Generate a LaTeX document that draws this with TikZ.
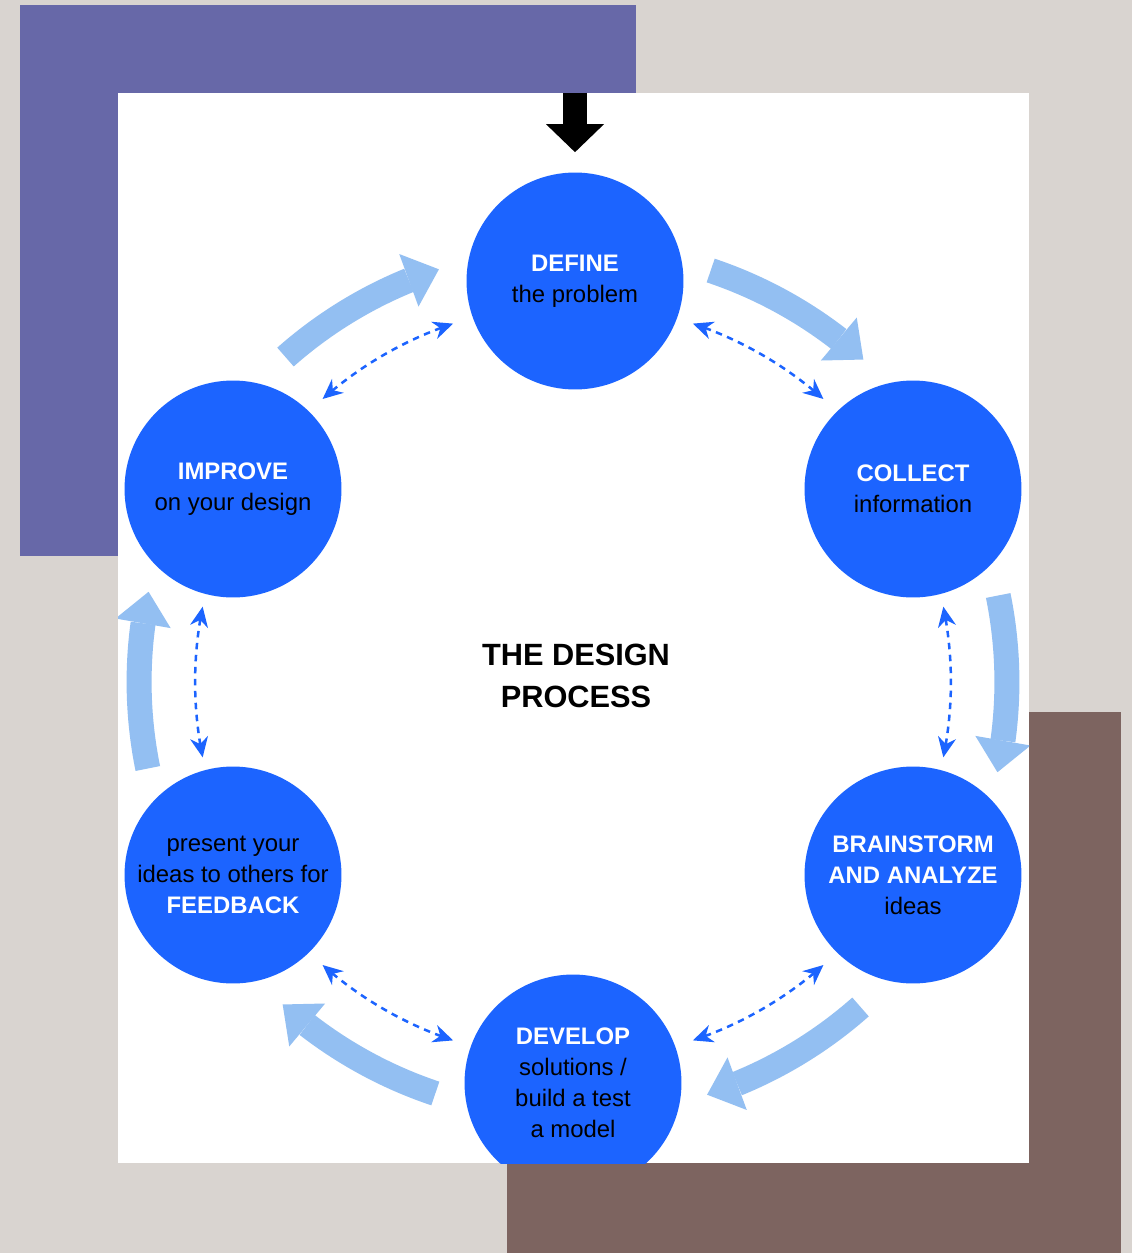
\documentclass[tikz,border=0pt]{standalone}
\usepackage{fontspec}
\setmainfont{Liberation Sans}
\usepackage{tikz}
\usetikzlibrary{arrows.meta,bending,calc}

\definecolor{bgstone}{RGB}{217,212,208}
\definecolor{violetblock}{RGB}{103,104,168}
\definecolor{brownblock}{RGB}{125,100,96}
\definecolor{stageblue}{RGB}{28,100,255}
\definecolor{flowblue}{RGB}{147,191,242}

\newcommand{\stagehead}[1]{\textcolor{white}{\textbf{#1}}}

\begin{document}
\begin{tikzpicture}
[x=0.02cm, y=-0.02cm,
stage/.style={circle, fill=stageblue, minimum size=4.34cm, inner sep=0pt, align=center, text=black, font=\fontsize{13.6}{17.6}\selectfont},
flow/.style={draw=flowblue, line width=0.5cm, -{Triangle[width=1.12cm,length=0.64cm,line width=0pt]}},
link/.style={draw=stageblue, line width=0.05cm, dash pattern=on 0.13cm off 0.11cm, {Stealth[length=0.4cm,width=0.36cm]}-{Stealth[length=0.4cm,width=0.36cm]}},
inlet/.style={draw=black, line width=0.48cm, -{Triangle[width=1.16cm,length=0.56cm,line width=0pt]}, shorten >=0.4cm}
]
\useasboundingbox (0,0) rectangle (1132,1253);

%Background
\fill[bgstone] (0,0) rectangle (1132,1253);
\fill[violetblock] (20,5) rectangle (636,556);
\fill[brownblock] (507,712) rectangle (1121,1253);
\fill[white] (118,93) rectangle (1029,1163);

\begin{scope}
\clip (118,93) rectangle (1029,1163);

%Nodes
\node[stage] (define)     at (575,281)  {\stagehead{DEFINE}\\the problem};
\node[stage] (collect)    at (913,489)  {\stagehead{COLLECT}\\information};
\node[stage] (brainstorm) at (913,875)  {\stagehead{BRAINSTORM}\\\stagehead{AND ANALYZE}\\ideas};
\node[stage] (develop)    at (573,1083) {\stagehead{DEVELOP}\\solutions /\\build a test\\a model};
\node[stage] (feedback)   at (233,875)  {present your\\ideas to others for\\\stagehead{FEEDBACK}};
\node[stage] (improve)    at (233,489)  {\stagehead{IMPROVE}\\on your design};
\node[font=\bfseries\fontsize{17.5}{23.9}\selectfont, align=center] (title) at (576,676) {THE DESIGN\\PROCESS};

\coordinate (hub)   at (573,682);
\coordinate (entry) at (575,93);

%Big arrows
\coordinate (flowA) at ($(hub)+(131.5:8.68cm)$);
\coordinate (flowB) at ($(hub)+(71.5:8.68cm)$);
\coordinate (flowC) at ($(hub)+(11.5:8.68cm)$);
\coordinate (flowD) at ($(hub)+(-48.5:8.68cm)$);
\coordinate (flowE) at ($(hub)+(-108.5:8.68cm)$);
\coordinate (flowF) at ($(hub)+(191.5:8.68cm)$);

%Dotted links
\coordinate (linkA) at ($(hub)+(131.5:7.56cm)$);
\coordinate (linkB) at ($(hub)+(71.5:7.56cm)$);
\coordinate (linkC) at ($(hub)+(11.5:7.56cm)$);
\coordinate (linkD) at ($(hub)+(-48.5:7.56cm)$);
\coordinate (linkE) at ($(hub)+(-108.5:7.56cm)$);
\coordinate (linkF) at ($(hub)+(191.5:7.56cm)$);

%Lines
\draw[inlet] (entry) -- (define.north);

\draw[flow] (flowA) arc[start angle=131.5, end angle=108, radius=8.68cm];
\draw[flow] (flowB) arc[start angle=71.5, end angle=48, radius=8.68cm];
\draw[flow] (flowC) arc[start angle=11.5, end angle=-12, radius=8.68cm];
\draw[flow] (flowD) arc[start angle=-48.5, end angle=-72, radius=8.68cm];
\draw[flow] (flowE) arc[start angle=-108.5, end angle=-132, radius=8.68cm];
\draw[flow] (flowF) arc[start angle=191.5, end angle=168, radius=8.68cm];

\draw[link] (linkA) arc[start angle=131.5, end angle=108.5, radius=7.56cm];
\draw[link] (linkB) arc[start angle=71.5, end angle=48.5, radius=7.56cm];
\draw[link] (linkC) arc[start angle=11.5, end angle=-11.5, radius=7.56cm];
\draw[link] (linkD) arc[start angle=-48.5, end angle=-71.5, radius=7.56cm];
\draw[link] (linkE) arc[start angle=-108.5, end angle=-131.5, radius=7.56cm];
\draw[link] (linkF) arc[start angle=191.5, end angle=168.5, radius=7.56cm];
\end{scope}
\end{tikzpicture}
\end{document}
